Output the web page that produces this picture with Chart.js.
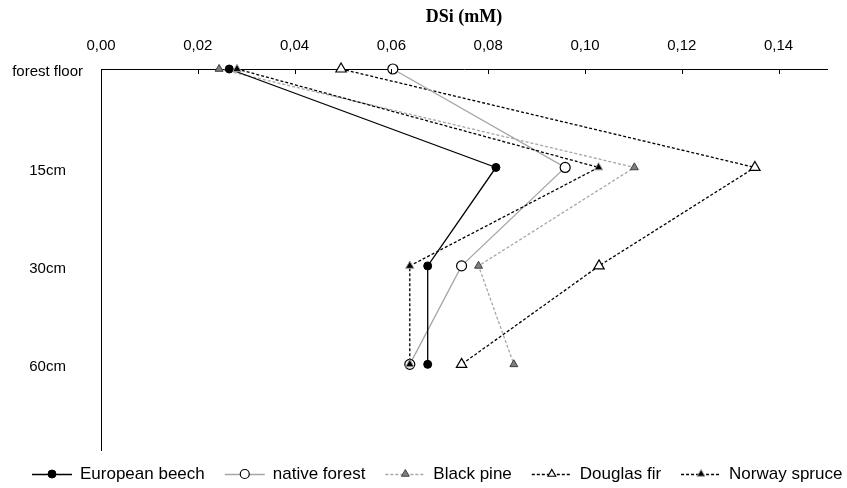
<!DOCTYPE html>
<html><head><meta charset="utf-8">
<script src="https://cdn.jsdelivr.net/npm/chart.js@4.4.0/dist/chart.umd.min.js"></script>
<style>html,body{margin:0;padding:0;background:#fff}</style>
</head><body>
<canvas id="c" width="847" height="488"></canvas>
<script>
// ---- data ----
const depthLabels = ['forest floor', '15cm', '30cm', '60cm'];
const seriesNames = ['European beech', 'native forest', 'Black pine', 'Douglas fir', 'Norway spruce'];
const europeanBeech = [0.0265, 0.0816, 0.0675, 0.0675];
const nativeForest  = [0.0603, 0.0959, 0.0745, 0.0638];
const blackPine     = [0.0244, 0.1102, 0.0780, 0.0853];
const douglasFir    = [0.0496, 0.1351, 0.1029, 0.0745];
const norwaySpruce  = [0.0281, 0.1028, 0.0638, 0.0638];
const xMin = 0, xMax = 0.15, xStep = 0.02;
const axisTitle = 'DSi (mM)';

const FONT = '"Liberation Sans", Arial, sans-serif';
Chart.defaults.color = '#000';
Chart.defaults.font.family = FONT;

function pts(vals) { return vals.map((v, i) => ({ x: v, y: i })); }

const styles = [
  { order: 1, borderColor: '#000', borderDash: [], pointStyle: 'circle', pointRadius: 4, pointBackgroundColor: '#000', pointBorderColor: '#000', pointBorderWidth: 1 },
  { order: 2, borderColor: '#a6a6a6', borderDash: [], pointStyle: 'circle', pointRadius: 5, pointBackgroundColor: '#fff', pointBorderColor: '#000', pointBorderWidth: 1.2 },
  { order: 4, borderColor: '#a6a6a6', borderDash: [3, 2], pointStyle: 'triangle', pointRadius: 4.6, pointBackgroundColor: '#7f7f7f', pointBorderColor: '#404040', pointBorderWidth: 1 },
  { order: 3, borderColor: '#000', borderDash: [3, 2], pointStyle: 'triangle', pointRadius: 6, pointBackgroundColor: '#fff', pointBorderColor: '#000', pointBorderWidth: 1.2 },
  { order: 0, borderColor: '#000', borderDash: [3, 2], pointStyle: 'triangle', pointRadius: 4.8, pointBackgroundColor: '#000', pointBorderColor: '#a0a0a0', pointBorderWidth: 1 }
];
const values = [europeanBeech, nativeForest, blackPine, douglasFir, norwaySpruce];

const datasets = values.map((v, i) => Object.assign({
  label: seriesNames[i],
  data: pts(v),
  showLine: true,
  borderWidth: 1.3,
  clip: false,
  pointHoverRadius: styles[i].pointRadius
}, styles[i]));

// small inward tick marks on the top axis
const tickMarks = {
  id: 'tickMarks',
  afterDraw(chart) {
    const { ctx, chartArea } = chart;
    const xs = chart.scales.x;
    ctx.save();
    ctx.strokeStyle = '#000';
    ctx.lineWidth = 1;
    xs.ticks.forEach(t => {
      const px = Math.round(xs.getPixelForValue(t.value)) + 0.5;
      ctx.beginPath();
      ctx.moveTo(px, chartArea.top);
      ctx.lineTo(px, chartArea.top + 5);
      ctx.stroke();
    });
    ctx.restore();
  }
};

// legend with line + marker symbols
const lineLegend = {
  id: 'lineLegend',
  afterDraw(chart) {
    const ctx = chart.ctx;
    const fontSize = 17;
    const symW = 40, gap = 8, itemGap = 20;
    let x = 32;
    const y = 474;
    ctx.save();
    ctx.font = fontSize + 'px ' + FONT;
    ctx.textBaseline = 'middle';
    ctx.textAlign = 'left';
    chart.data.datasets.forEach(ds => {
      ctx.save();
      ctx.strokeStyle = ds.borderColor;
      ctx.lineWidth = 1.3;
      ctx.setLineDash(ds.borderDash || []);
      ctx.beginPath();
      ctx.moveTo(x, y + 0.5);
      ctx.lineTo(x + symW, y + 0.5);
      ctx.stroke();
      ctx.setLineDash([]);
      ctx.fillStyle = ds.pointBackgroundColor;
      ctx.strokeStyle = ds.pointBorderColor;
      ctx.lineWidth = ds.pointBorderWidth;
      Chart.helpers.drawPoint(ctx, {
        pointStyle: ds.pointStyle,
        radius: ds.pointStyle === 'triangle' ? Math.min(ds.pointRadius, 4.5) : Math.min(ds.pointRadius, 4.5),
        rotation: 0,
        borderWidth: ds.pointBorderWidth
      }, x + symW / 2, y);
      ctx.restore();
      ctx.fillStyle = '#000';
      ctx.fillText(ds.label, x + symW + gap, y);
      x += symW + gap + ctx.measureText(ds.label).width + itemGap;
    });
    ctx.restore();
  }
};

new Chart(document.getElementById('c'), {
  type: 'scatter',
  data: { datasets },
  plugins: [tickMarks, lineLegend],
  options: {
    responsive: false,
    animation: false,
    devicePixelRatio: 1,
    events: [],
    layout: { padding: { left: 0, right: 20, top: 0, bottom: 38 } },
    plugins: { legend: { display: false }, tooltip: { enabled: false } },
    scales: {
      x: {
        type: 'linear',
        position: 'top',
        min: xMin, max: xMax,
        grid: { display: false, drawTicks: false },
        border: { display: true, color: '#000', width: 1 },
        ticks: {
          stepSize: xStep,
          includeBounds: false,
          padding: 14,
          font: { size: 15, family: FONT },
          color: '#000',
          callback: v => v.toFixed(2).replace('.', ',')
        },
        title: {
          display: true,
          text: axisTitle,
          font: { family: '"Liberation Serif", "Times New Roman", serif', size: 18, weight: 'bold', lineHeight: 1.2 },
          padding: { top: 7, bottom: 0 },
          color: '#000'
        },
        afterFit(s) { s.height = 69; }
      },
      y: {
        type: 'linear',
        reverse: true,
        min: 0, max: 3.87,
        grid: { display: false, drawTicks: false },
        border: { display: true, color: '#000', width: 1 },
        ticks: {
          stepSize: 1,
          includeBounds: false,
          padding: 18,
          labelOffset: 3,
          crossAlign: 'center',
          font: { size: 15, family: FONT },
          color: '#000',
          callback: v => depthLabels[v] !== undefined ? depthLabels[v] : ''
        },
        afterFit(s) { s.width = 101; }
      }
    }
  }
});
</script>
</body></html>
